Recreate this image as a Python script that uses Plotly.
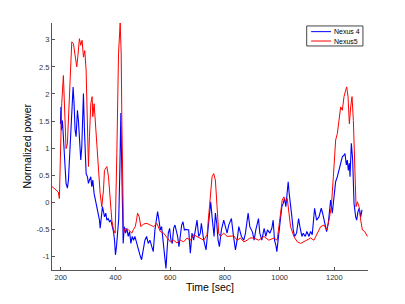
import plotly.graph_objects as go

# ---- data ----
nexus4_t = [199, 200.5, 202.3, 206, 209.6, 213.3, 215.7, 219.4, 224.3, 228, 231.6, 236.5, 241.4, 245.1,
            248.7, 252.4, 256.1, 261, 264.6, 268.2, 273.1, 276.8, 280.5, 282.9, 286.6, 290.2, 292.7,
            297.6, 301.2, 304.9, 309.8, 313.4, 317.1, 322, 325.6, 331.7, 337.9, 341.5, 344, 347.6,
            352.5, 356.2, 359.8, 364.7, 368.4, 373.3, 378.1, 383, 387.9, 392.8, 396.5, 400, 404, 408,
            412, 416, 419.7, 422, 425, 428.2, 431.9, 436.8, 441.6, 446.5, 451.4, 456.3, 461.2, 466.1,
            471, 477.1, 483.2, 489.3, 495.4, 501.5, 507.6, 513.7, 519.8, 525.9, 532, 538.1, 544.2,
            549.1, 554, 558.9, 563.7, 568.6, 573.5, 578.4, 584.5, 589.4, 593.1, 597.9, 602.8, 607.7,
            612.6, 617.5, 622.4, 627.2, 632.1, 637, 641.9, 646.8, 651.7, 656, 661.4, 667.5, 673.6,
            679.7, 685.8, 691.9, 698, 704.2, 710.2, 713.9, 722.5, 731, 738.3, 743.2, 748.1, 753,
            760.3, 765.2, 770.1, 775, 779.8, 787.2, 795.7, 801.8, 807.9, 814, 823.8, 829.9, 838.5,
            844.6, 850.7, 860.4, 869, 875.1, 884.9, 891, 900.7, 906.8, 912.9, 922.7, 927.6, 934.9,
            943.4, 949.5, 955.6, 964.2, 971.5, 976.4, 981.3, 986.2, 989.8, 995.9, 1002, 1008.1, 1013,
            1017.9, 1022.8, 1027.7, 1031.3, 1035, 1039.9, 1044.8, 1049.7, 1054.5, 1061.9, 1069.2,
            1074.1, 1081.4, 1086.3, 1093.6, 1099.7, 1107, 1113.1, 1119.2, 1127.8, 1135.1, 1143.7,
            1152.2, 1157.1, 1164.4, 1171.7, 1177.8, 1186.4, 1192.5, 1198.6, 1204.7, 1210.8, 1216.9,
            1223, 1229.1, 1235.2, 1238.9, 1243.8, 1247.4, 1251.1, 1254.8, 1257.2, 1262.1, 1267,
            1271.9, 1278, 1281.6, 1286.5, 1291.4, 1296.3, 1301.2]
nexus4_p = [1.45, 1.76, 1.33, 1.51, 1.21, 0.96, 0.66, 0.35, 0.26, 0.41, 0.78, 1.51, 1.95, 2.13,
            1.82, 1.33, 1.21, 1.70, 1.51, 1.15, 0.78, 1.02, 1.76, 2.01, 1.33, 0.78, 0.53,
            0.47, 0.35, 0.41, 0.47, 0.29, 0.41, 0.16, 0.07, -0.02, -0.20, -0.33, -0.48, -0.27,
            -0.08, -0.17, -0.27, -0.20, -0.33, -0.30, -0.36, -0.33, -0.45, -0.54, -0.70, -0.97, -0.80, -0.60,
            -0.30, 0.60, 1.65, 0.90, -0.20, -0.76, -0.45, -0.57, -0.48, -0.63, -0.54, -0.76, -0.63, -0.70,
            -0.63, -0.76, -0.88, -0.97, -1.06, -0.88, -0.70, -0.63, -0.76, -0.70, -0.82, -0.91, -0.51,
            -0.33, -0.17, -0.33, -0.51, -0.45, -0.70, -0.82, -1.22, -0.82, -0.57, -0.48, -0.70, -0.76,
            -0.48, -0.42, -0.51, -0.63, -0.82, -0.57, -0.42, -0.36, -0.51, -0.50, -0.50, -0.51, -0.94,
            -0.57, -0.70, -0.51, -0.33, -0.63, -0.57, -0.39, -0.70, -0.88, -0.45, -0.14, 0.01, -0.27,
            -0.63, -0.20, -0.39, -0.70, -0.82, -0.51, -0.33, -0.45, -0.57, -0.42, -0.30, -0.57, -0.88,
            -0.70, -0.45, -0.63, -0.70, -0.57, -0.20, -0.45, -0.55, -0.70, -0.51, -0.30, -0.57, -0.70,
            -0.48, -0.63, -0.51, -0.57, -0.48, -0.33, -0.70, -0.79, -0.91, -0.63, -0.39, -0.08, -0.02,
            0.07, -0.08, 0.23, 0.38, 0.16, -0.02, -0.27, -0.51, -0.63, -0.57, -0.30,
            -0.45, -0.63, -0.57, -0.63, -0.54, -0.63, -0.54, -0.60, -0.11, -0.33, -0.27,
            -0.11, -0.20, -0.39, -0.54, -0.39, 0.04, -0.20, 0.10, 0.38, 0.47, 0.59,
            0.72, 0.84, 0.87, 0.90, 0.69, 0.78, 0.59, 0.72, 0.47, 1.09, 0.78,
            -0.02, -0.27, -0.33, -0.17, -0.11, -0.27, -0.14]

nexus5_t = [168, 175, 182, 188, 191, 195, 197, 200, 203.5, 209.6, 213.3, 219.4, 224.3, 231.6, 240.2,
            246.3, 252.4, 258.5, 262.1, 268.2, 273.1, 278, 282.9, 287.8, 292.7, 297.6, 301.2, 304.9,
            309.8, 314.6, 317.1, 322, 325.6, 331.7, 337.9, 344, 350, 356.2, 359.8, 368.4, 374.5,
            380.6, 386.7, 392.8, 398.9, 405, 411.1, 417.2, 420.9, 423.3, 427, 429.4, 435.5, 441,
            447.7, 454, 460, 466, 472.2, 477, 480.7, 486.8, 492.9, 502.7, 514.9, 527.1, 539.3,
            551.5, 563.7, 576, 588.2, 600.4, 612.6, 624.8, 637, 649.2, 661.4, 673.6, 685.8, 698,
            710.3, 722.5, 734.7, 740.8, 746.9, 753, 759.1, 765.2, 771.3, 777.4, 783.5, 795.7, 808,
            820.2, 832.4, 844.6, 856.8, 869, 881.2, 891, 905.7, 924, 935, 942.3, 960.6, 979, 991,
            1000.9, 1009.5, 1015.6, 1021.7, 1027.8, 1033.9, 1040, 1052.2, 1064.4, 1076.6, 1088.8,
            1101, 1113.2, 1125.4, 1137.7, 1149.9, 1162, 1171.8, 1180.4, 1189, 1196.3, 1204.8,
            1210.9, 1217, 1223.1, 1229.2, 1235.3, 1241.4, 1245.1, 1250, 1254.9, 1259.8, 1264.6,
            1269.5, 1274.4, 1279.3, 1284.2, 1290.3, 1296.4, 1302.5, 1311, 1320.8]
nexus5_p = [0.29, 0.26, 0.22, 0.21, 0.19, 0.07, 0.50, 1.40, 1.82, 2.34, 1.82, 0.99, 1.08, 1.82, 2.96,
            2.93, 2.68, 2.50, 2.68, 3.02, 2.90, 2.99, 2.68, 2.80, 2.44, 1.51, 0.66, 1.21,
            1.82, 1.95, 1.58, 1.82, 1.51, 1.08, 0.66, 0.16, -0.08, 0.23, 0.59, 0.66, 0.47,
            -0.02, -0.33, -0.51, -0.57, 0.90, 2.74, 3.31, 2.74, 1.51, -0.33, -0.57, -0.48, -0.51,
            -0.51, -0.55, -0.57, -0.50, -0.45, -0.33, -0.20, -0.27, -0.45, -0.40, -0.39, -0.42, -0.45,
            -0.39, -0.54, -0.57, -0.66, -0.73, -0.70, -0.75, -0.70, -0.73, -0.66, -0.70, -0.60, -0.63,
            -0.66, -0.70, -0.60, -0.20, 0.16, 0.47, 0.53, 0.41, -0.08, -0.57, -0.63, -0.57, -0.63,
            -0.63, -0.62, -0.70, -0.66, -0.73, -0.70, -0.66, -0.66, -0.70, -0.66, -0.63, -0.70, -0.66, -0.70,
            -0.33, 0.04, 0.10, 0.01, 0.07, -0.20, -0.45, -0.63, -0.73, -0.76, -0.73,
            -0.70, -0.66, -0.70, -0.57, -0.45, -0.42, -0.51, -0.33, -0.08, 0.47, 1.15,
            1.27, 1.51, 1.76, 1.70, 1.95, 2.07, 2.13, 1.95, 1.45, 1.76, 1.95,
            1.51, 0.59, -0.08, 0.01, -0.08, -0.33, -0.51, -0.54, -0.63]

series_names = ["Nexus 4", "Nexus5"]
series_colors = ["#0000ff", "#ff0000"]

x_tick_vals = [200, 400, 600, 800, 1000, 1200]
x_tick_text = ["200", "400", "600", "800", "1000", "1200"]
y_tick_vals = [-1, -0.5, 0, 0.5, 1, 1.5, 2, 2.5, 3]
y_tick_text = ["-1", "-0.5", "0", "0.5", "1", "1.5", "2", "2.5", "3"]

x_title = "Time [sec]"
y_title = "Normalized power"

FONT = "Liberation Sans, Arial"

# ---- figure ----
fig = go.Figure()
fig.add_trace(go.Scatter(x=nexus4_t, y=nexus4_p, mode="lines", name=series_names[0],
                         line=dict(color=series_colors[0], width=1.1), showlegend=False))
fig.add_trace(go.Scatter(x=nexus5_t, y=nexus5_p, mode="lines", name=series_names[1],
                         line=dict(color=series_colors[1], width=1), showlegend=False))

axis_common = dict(showgrid=False, zeroline=False, showline=True, linecolor="#555555",
                   linewidth=1, ticks="inside", ticklen=3, tickcolor="#555555",
                   automargin=False,
                   tickfont=dict(family=FONT, size=7.5, color="#333333"))

fig.update_xaxes(range=[168, 1323], tickvals=x_tick_vals, ticktext=x_tick_text,
                 **axis_common)
fig.update_yaxes(range=[-1.25, 3.31], tickvals=y_tick_vals, ticktext=y_tick_text,
                 **axis_common)

# axis titles placed at the reference positions
fig.add_annotation(xref="paper", yref="paper", x=0.5, y=-0.036, yanchor="top", text=x_title,
                   showarrow=False, font=dict(family=FONT, size=10.5, color="#000000"))
fig.add_annotation(xref="paper", yref="paper", x=-0.082, y=0.5, xanchor="center", text=y_title,
                   textangle=-90, showarrow=False, font=dict(family=FONT, size=10.5, color="#000000"))

# legend box drawn in paper coordinates (MATLAB-style compact legend)
leg_x0, leg_x1, leg_y0, leg_y1 = 0.806, 0.984, 0.907, 0.988
row_y = [0.965, 0.927]
fig.add_shape(type="rect", xref="paper", yref="paper", x0=leg_x0, x1=leg_x1, y0=leg_y0, y1=leg_y1,
              line=dict(color="#444444", width=1), fillcolor="white", layer="above")
for name, color, ry in zip(series_names, series_colors, row_y):
    fig.add_shape(type="line", xref="paper", yref="paper", x0=0.820, x1=0.883, y0=ry, y1=ry,
                  line=dict(color=color, width=1), layer="above")
    fig.add_annotation(xref="paper", yref="paper", x=0.887, y=ry, text=name, showarrow=False,
                       xanchor="left", yanchor="middle",
                       font=dict(family=FONT, size=7, color="#000000"))

fig.update_layout(width=405, height=304, margin=dict(l=52, r=37, t=23, b=34),
                  paper_bgcolor="white", plot_bgcolor="white", hovermode=False)

fig.write_html("out.html", config={"displayModeBar": False},
               post_script="document.body.style.margin='0';")
